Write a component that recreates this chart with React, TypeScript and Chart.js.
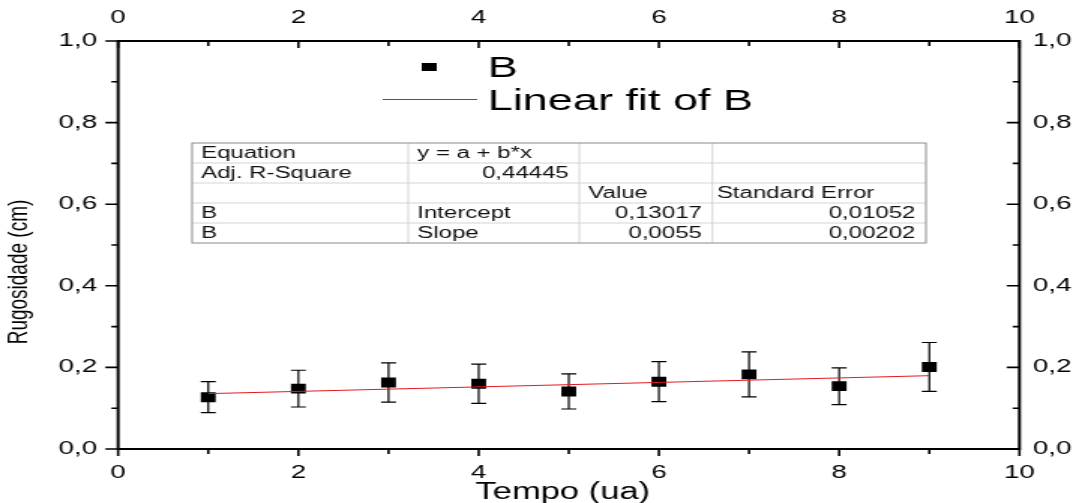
import React, { useEffect, useRef } from "react";
import { Chart, registerables } from "chart.js";

Chart.register(...registerables);

// ---- data ----
const tempo = [1, 2, 3, 4, 5, 6, 7, 8, 9];
const rugosidade = [0.127, 0.148, 0.163, 0.16, 0.141, 0.165, 0.183, 0.154, 0.201];
const erro = [0.038, 0.045, 0.048, 0.048, 0.043, 0.049, 0.055, 0.045, 0.06];
const fitX = [1, 9];
const fitY = [0.1357, 0.1797];
const xTickValues = [0, 2, 4, 6, 8, 10];
const yTickValues = [0, 0.2, 0.4, 0.6, 0.8, 1.0];
const tableRows = [
  ["Equation", "y = a + b*x", "", ""],
  ["Adj. R-Square", "0,44445", "", ""],
  ["", "", "Value", "Standard Error"],
  ["B", "Intercept", "0,13017", "0,01052"],
  ["B", "Slope", "0,0055", "0,00202"],
];
const legendLabels = ["B", "Linear fit of B"];
const xTitle = "Tempo (ua)";
const yTitle = "Rugosidade (cm)";

// ---- layout (internal canvas px; canvas is stretched horizontally) ----
const W_OUT = 1073;
const H_OUT = 503;
const W_IN = 715;
const SX = W_OUT / W_IN;
const FONT = "'Liberation Sans', Arial, sans-serif";

const fmtY = (v: number) => v.toFixed(1).replace(".", ",");

const decorPlugin = {
  id: "decor",
  beforeDatasetsDraw(chart: any) {
    const ctx = chart.ctx;
    const xs = chart.scales.x;
    const ys = chart.scales.y;
    ctx.save();
    ctx.strokeStyle = "#000";
    ctx.lineWidth = 1.2;
    for (let i = 0; i < tempo.length; i++) {
      const px = xs.getPixelForValue(tempo[i]);
      const pt = ys.getPixelForValue(rugosidade[i] + erro[i]);
      const pb = ys.getPixelForValue(rugosidade[i] - erro[i]);
      ctx.beginPath();
      ctx.moveTo(px, pt);
      ctx.lineTo(px, pb);
      ctx.moveTo(px - 5, pt);
      ctx.lineTo(px + 5, pt);
      ctx.moveTo(px - 5, pb);
      ctx.lineTo(px + 5, pb);
      ctx.stroke();
    }
    ctx.restore();
  },
  afterDraw(chart: any) {
    const ctx = chart.ctx;
    const a = chart.chartArea;
    const xs = chart.scales.x;
    const ys = chart.scales.y;
    ctx.save();
    // frame
    ctx.strokeStyle = "#000";
    ctx.lineWidth = 2;
    ctx.strokeRect(a.left, a.top, a.right - a.left, a.bottom - a.top);
    // ticks
    ctx.lineWidth = 1.6;
    ctx.beginPath();
    for (let v = 0; v <= 10; v++) {
      const px = xs.getPixelForValue(v);
      const major = v % 2 === 0;
      const lb = major ? 7 : 5;
      ctx.moveTo(px, a.bottom);
      ctx.lineTo(px, a.bottom + lb);
      ctx.moveTo(px, a.top);
      ctx.lineTo(px, a.top + lb);
    }
    for (let k = 0; k <= 10; k++) {
      const py = ys.getPixelForValue(k / 10);
      const major = k % 2 === 0;
      const l = major ? 8.5 : 4.5;
      ctx.moveTo(a.left, py);
      ctx.lineTo(a.left - l, py);
      ctx.moveTo(a.right, py);
      ctx.lineTo(a.right - l, py);
    }
    ctx.stroke();

    // axis titles
    ctx.fillStyle = "#000";
    ctx.font = `23px ${FONT}`;
    ctx.textAlign = "center";
    ctx.textBaseline = "alphabetic";
    ctx.fillText(xTitle, (a.left + a.right) / 2 - 4, 499);
    ctx.save();
    ctx.translate(18, 272);
    ctx.rotate(-Math.PI / 2);
    ctx.font = `19px ${FONT}`;
    ctx.textBaseline = "alphabetic";
    ctx.fillText(yTitle, 0, 0);
    ctx.restore();

    // legend
    ctx.fillStyle = "#000";
    ctx.fillRect(281, 63, 10, 8);
    ctx.strokeStyle = "#e31a1c";
    ctx.lineWidth = 1;
    ctx.beginPath();
    ctx.moveTo(255, 99.5);
    ctx.lineTo(318, 99.5);
    ctx.stroke();
    ctx.font = `30px ${FONT}`;
    ctx.textAlign = "left";
    ctx.textBaseline = "middle";
    ctx.fillStyle = "#000";
    ctx.fillText(legendLabels[0], 325, 69);
    ctx.fillText(legendLabels[1], 325, 102);

    // table
    const colX = [128, 272, 386, 474.7, 617];
    const top = 143;
    const rh = 20;
    const nR = tableRows.length;
    ctx.fillStyle = "#fff";
    ctx.fillRect(colX[0], top, colX[4] - colX[0], rh * nR);
    ctx.strokeStyle = "#d4d4d4";
    ctx.lineWidth = 1;
    ctx.beginPath();
    for (let r = 1; r < nR; r++) {
      ctx.moveTo(colX[0], top + r * rh);
      ctx.lineTo(colX[4], top + r * rh);
    }
    for (let c = 1; c < 4; c++) {
      ctx.moveTo(colX[c], top);
      ctx.lineTo(colX[c], top + rh * nR);
    }
    ctx.stroke();
    ctx.strokeStyle = "#8a8a8a";
    ctx.strokeRect(colX[0], top, colX[4] - colX[0], rh * nR);
    ctx.font = `16px ${FONT}`;
    ctx.fillStyle = "#111";
    ctx.textBaseline = "middle";
    for (let r = 0; r < nR; r++) {
      for (let c = 0; c < 4; c++) {
        const t = tableRows[r][c];
        if (!t) continue;
        const cy = top + r * rh + rh / 2 + 1;
        if (/^[0-9]/.test(t)) {
          ctx.textAlign = "right";
          ctx.fillText(t, colX[c + 1] - 7, cy);
        } else {
          ctx.textAlign = "left";
          ctx.fillText(t, colX[c] + (c === 3 ? 3 : 6), cy);
        }
      }
    }
    ctx.restore();
  },
};

export default function App() {
  const ref = useRef<HTMLCanvasElement | null>(null);
  useEffect(() => {
    document.body.style.margin = "0";
    const canvas = ref.current!;
    const tickFont = { family: FONT, size: 18.5 };
    const chart = new Chart(canvas, {
      type: "scatter",
      data: {
        datasets: [
          {
            type: "line",
            label: legendLabels[1],
            data: fitX.map((x, i) => ({ x, y: fitY[i] })),
            borderColor: "#e31a1c",
            borderWidth: 1,
            pointRadius: 0,
            fill: false,
            xAxisID: "x",
            yAxisID: "y",
            order: 0,
          },
          {
            type: "scatter",
            label: legendLabels[0],
            data: tempo.map((x, i) => ({ x, y: rugosidade[i] })),
            pointStyle: "rect",
            pointRadius: 7,
            backgroundColor: "#000",
            borderColor: "#000",
            borderWidth: 0,
            xAxisID: "x",
            yAxisID: "y",
            order: 1,
          },
        ],
      },
      options: {
        responsive: true,
        maintainAspectRatio: false,
        animation: false,
        layout: { padding: 0 },
        plugins: { legend: { display: false }, tooltip: { enabled: false } },
        scales: {
          x: {
            type: "linear",
            position: "bottom",
            min: 0,
            max: 10,
            afterFit: (s: any) => { s.height = 54; },
            afterBuildTicks: (s: any) => { s.ticks = xTickValues.map((v) => ({ value: v })); },
            grid: { display: false, drawTicks: false },
            border: { display: false },
            ticks: { font: tickFont, color: "#000", padding: 13, callback: (v: any) => String(v) },
          },
          x2: {
            type: "linear",
            position: "top",
            min: 0,
            max: 10,
            afterFit: (s: any) => { s.height = 41; },
            afterBuildTicks: (s: any) => { s.ticks = xTickValues.map((v) => ({ value: v })); },
            grid: { display: false, drawTicks: false },
            border: { display: false },
            ticks: { font: tickFont, color: "#000", padding: 12, callback: (v: any) => String(v) },
          },
          y: {
            type: "linear",
            position: "left",
            min: 0,
            max: 1,
            afterFit: (s: any) => { s.width = 78.7; },
            afterBuildTicks: (s: any) => { s.ticks = yTickValues.map((v) => ({ value: v })); },
            grid: { display: false, drawTicks: false },
            border: { display: false },
            ticks: { font: tickFont, color: "#000", padding: 14, callback: (v: any) => fmtY(Number(v)) },
          },
          y2: {
            type: "linear",
            position: "right",
            min: 0,
            max: 1,
            afterFit: (s: any) => { s.width = W_IN - 679.3; },
            afterBuildTicks: (s: any) => { s.ticks = yTickValues.map((v) => ({ value: v })); },
            grid: { display: false, drawTicks: false },
            border: { display: false },
            ticks: { font: tickFont, color: "#000", padding: 9, callback: (v: any) => fmtY(Number(v)) },
          },
        },
      },
      plugins: [decorPlugin],
    } as any);
    return () => chart.destroy();
  }, []);

  return (
    <div style={{ position: "absolute", left: 0, top: 0, width: W_OUT, height: H_OUT, overflow: "hidden", background: "#fff" }}>
      <div style={{ width: W_IN, height: H_OUT, transform: `scaleX(${SX})`, transformOrigin: "0 0" }}>
        <canvas ref={ref} />
      </div>
    </div>
  );
}
